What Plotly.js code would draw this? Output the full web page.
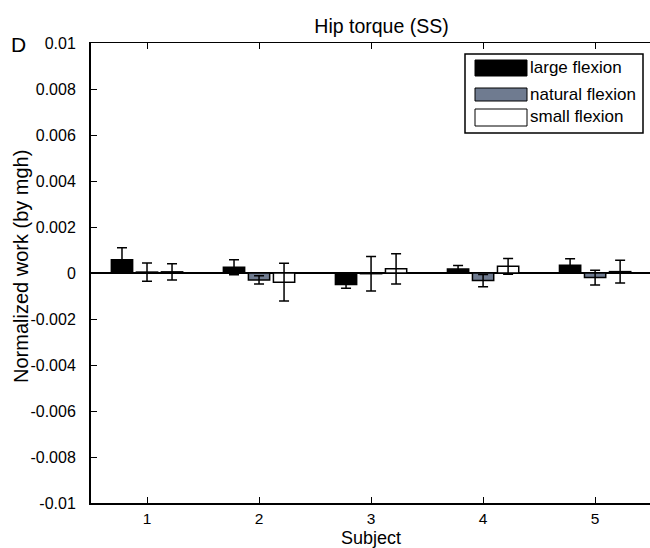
<!DOCTYPE html>
<html>
<head>
<meta charset="utf-8">
<script src="https://cdn.plot.ly/plotly-3.0.1.min.js"></script>
<style>
  html, body { margin: 0; padding: 0; background: #fff; }
  #chart { width: 650px; height: 548px; }
</style>
</head>
<body>
<div id="chart"></div>
<script>
// Hip torque work per subject, normalized by mgh (mean and SD)
const subjects = [1, 2, 3, 4, 5];
const seriesNames = ['large flexion', 'natural flexion', 'small flexion'];

const largeMean   = [0.00058, 0.00025, -0.00050, 0.00017, 0.00034];
const largeSD     = [0.00052, 0.00033, 0.00016, 0.00016, 0.00028];
const naturalMean = [0.00004, -0.00030, -0.00003, -0.00033, -0.00020];
const naturalSD   = [0.00040, 0.00018, 0.00075, 0.00027, 0.00032];
const smallMean   = [0.00005, -0.00040, 0.00018, 0.00029, 0.00006];
const smallSD     = [0.00035, 0.00082, 0.00066, 0.00034, 0.00049];

const yTickVals = [-0.01, -0.008, -0.006, -0.004, -0.002, 0, 0.002, 0.004, 0.006, 0.008, 0.01];
const yTickText = ['-0.01', '-0.008', '-0.006', '-0.004', '-0.002', '0', '0.002', '0.004', '0.006', '0.008', '0.01'];

const fills = ['#000000', '#6F7B90', '#FFFFFF'];
const means = [largeMean, naturalMean, smallMean];
const sds = [largeSD, naturalSD, smallSD];

const FONT = 'Liberation Sans, Arial, Helvetica, sans-serif';

const traces = means.map((m, i) => ({
  type: 'bar',
  name: seriesNames[i],
  x: subjects,
  y: m,
  marker: { color: fills[i], line: { color: '#000', width: 1.5 } },
  error_y: { type: 'data', array: sds[i], visible: true, color: '#000', thickness: 1.5, width: 5 },
  showlegend: false,
  hoverinfo: 'x+y'
}));

// page geometry: plot area spans x 91..650 px, y 43..503 px
const W = 650, H = 548;
const M = { l: 91, r: 0, t: 43, b: 45 };
const plotW = W - M.l - M.r, plotH = H - M.t - M.b;
const px = v => (v - M.l) / plotW;          // pixel x -> paper x
const py = v => (H - M.b - v) / plotH;      // pixel y -> paper y

// legend box with wide swatches
const legX0 = 465, legX1 = 643, legY0 = 54, legY1 = 133;
const rows = [
  { y0: 60, y1: 76, ty: 67 },
  { y0: 88, y1: 101, ty: 94 },
  { y0: 109, y1: 126, ty: 117 }
];
const shapes = [
  { type: 'rect', xref: 'paper', yref: 'paper', x0: px(legX0), x1: px(legX1), y0: py(legY1), y1: py(legY0),
    line: { color: '#000', width: 1.5 }, fillcolor: '#fff', layer: 'above' }
];
const annotations = [
  { text: 'D', xref: 'paper', yref: 'paper', x: px(9), y: py(45), xanchor: 'left', yanchor: 'middle',
    showarrow: false, font: { family: FONT, size: 21, color: '#000' } },
  // axis titles
  { text: 'Subject', xref: 'paper', yref: 'paper', x: px(371), y: py(537.5), xanchor: 'center', yanchor: 'middle',
    borderpad: 0, showarrow: false, font: { family: FONT, size: 18, color: '#000' } },
  { text: 'Normalized work (by mgh)', xref: 'paper', yref: 'paper', x: px(21), y: py(267), textangle: -90,
    xanchor: 'center', yanchor: 'middle', showarrow: false, font: { family: FONT, size: 20, color: '#000' } }
];
rows.forEach((r, i) => {
  shapes.push({ type: 'rect', xref: 'paper', yref: 'paper', x0: px(475), x1: px(527), y0: py(r.y1), y1: py(r.y0),
    line: { color: '#000', width: 1 }, fillcolor: fills[i], layer: 'above' });
  annotations.push({ text: seriesNames[i], xref: 'paper', yref: 'paper', x: px(528), y: py(r.ty),
    xanchor: 'left', yanchor: 'middle', showarrow: false, font: { family: FONT, size: 17, color: '#000' } });
});

const layout = {
  width: W, height: H,
  margin: M,
  paper_bgcolor: '#fff', plot_bgcolor: '#fff',
  font: { family: FONT, size: 16, color: '#000' },
  title: { text: 'Hip torque (SS)', x: 0.587, xanchor: 'center', y: 0.953, yanchor: 'middle',
    font: { family: FONT, size: 19.5, color: '#000' } },
  barmode: 'group',
  bargap: 0.33,
  bargroupgap: 0.15,
  xaxis: {
    range: [0.5, 5.49],
    tickvals: subjects,
    ticktext: subjects.map(String),
    ticks: 'inside', ticklen: 6, tickwidth: 1, tickcolor: '#000',
    ticklabelstandoff: 0,
    showline: true, linecolor: '#000', linewidth: 2,
    showgrid: false, zeroline: false,
    tickfont: { family: FONT, size: 15.5 }
  },
  xaxis2: {
    overlaying: 'x', side: 'top', matches: 'x', range: [0.5, 5.49],
    tickvals: subjects, showticklabels: false,
    ticks: 'inside', ticklen: 6, tickwidth: 1, tickcolor: '#000',
    showline: true, linecolor: '#000', linewidth: 1, showgrid: false, zeroline: false
  },
  yaxis: {
    range: [-0.01, 0.01],
    tickvals: yTickVals, ticktext: yTickText,
    ticks: 'inside', ticklen: 6, tickwidth: 1, tickcolor: '#000',
    ticklabelstandoff: 10,
    showline: true, linecolor: '#000', linewidth: 2,
    showgrid: false,
    zeroline: true, zerolinecolor: '#000', zerolinewidth: 1.5,
    tickfont: { family: FONT, size: 16 }
  },
  shapes: shapes,
  annotations: annotations
};

// invisible trace so the top axis is drawn
traces.push({ type: 'scatter', x: [1], y: [0], xaxis: 'x2', mode: 'markers',
  marker: { opacity: 0 }, showlegend: false, hoverinfo: 'skip' });

Plotly.newPlot('chart', traces, layout, { displayModeBar: false, staticPlot: true });
</script>
</body>
</html>
